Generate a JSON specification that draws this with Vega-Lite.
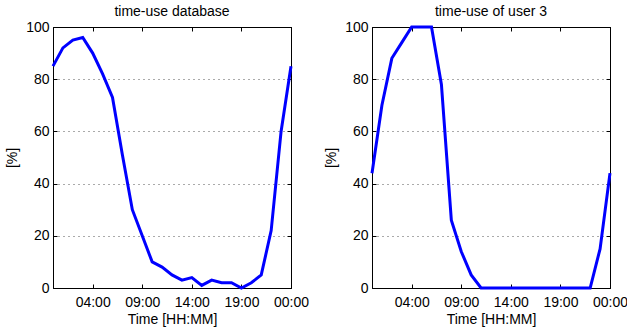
{
  "$schema": "https://vega.github.io/schema/vega-lite/v6.json",
  "background": "white",
  "padding": {"left": 5, "top": 4, "right": 0, "bottom": 0},
  "datasets": {
    "db": [
      {"hour": 0, "pct": 85}, {"hour": 1, "pct": 92}, {"hour": 2, "pct": 95}, {"hour": 3, "pct": 96},
      {"hour": 4, "pct": 90}, {"hour": 5, "pct": 82}, {"hour": 6, "pct": 73}, {"hour": 7, "pct": 51},
      {"hour": 8, "pct": 30}, {"hour": 9, "pct": 20}, {"hour": 10, "pct": 10}, {"hour": 11, "pct": 8},
      {"hour": 12, "pct": 5}, {"hour": 13, "pct": 3}, {"hour": 14, "pct": 4}, {"hour": 15, "pct": 1},
      {"hour": 16, "pct": 3}, {"hour": 17, "pct": 2}, {"hour": 18, "pct": 2}, {"hour": 19, "pct": 0},
      {"hour": 20, "pct": 2}, {"hour": 21, "pct": 5}, {"hour": 22, "pct": 22}, {"hour": 23, "pct": 60},
      {"hour": 24, "pct": 85}
    ],
    "u3": [
      {"hour": 0, "pct": 44}, {"hour": 1, "pct": 70}, {"hour": 2, "pct": 88}, {"hour": 3, "pct": 94},
      {"hour": 4, "pct": 100}, {"hour": 5, "pct": 100}, {"hour": 6, "pct": 100}, {"hour": 7, "pct": 78},
      {"hour": 8, "pct": 26}, {"hour": 9, "pct": 14}, {"hour": 10, "pct": 5}, {"hour": 11, "pct": 0},
      {"hour": 12, "pct": 0}, {"hour": 13, "pct": 0}, {"hour": 14, "pct": 0}, {"hour": 15, "pct": 0},
      {"hour": 16, "pct": 0}, {"hour": 17, "pct": 0}, {"hour": 18, "pct": 0}, {"hour": 19, "pct": 0},
      {"hour": 20, "pct": 0}, {"hour": 21, "pct": 0}, {"hour": 22, "pct": 0}, {"hour": 23, "pct": 15},
      {"hour": 24, "pct": 44}
    ]
  },
  "spacing": 14,
  "hconcat": [
    {
      "width": 238, "height": 261,
      "title": {"text": "time-use database"},
      "data": {"name": "db"},
      "layer": [
        {
          "mark": {"type": "line", "color": "#0000ff", "strokeWidth": 3},
          "encoding": {
            "x": {"field": "hour", "type": "quantitative", "scale": {"domain": [0, 24], "nice": false, "zero": false},
                  "axis": {"orient": "bottom", "values": [4, 9, 14, 19, 24], "labelExpr": "(datum.value % 24 < 10 ? '0' : '') + (datum.value % 24) + ':00'", "title": "Time [HH:MM]", "grid": false, "labelPadding": 11, "titlePadding": 3}},
            "y": {"field": "pct", "type": "quantitative", "scale": {"domain": [0, 100], "nice": false},
                  "axis": {"orient": "left", "values": [0, 20, 40, 60, 80, 100], "title": "[%]", "grid": true, "titlePadding": 6, "labelPadding": 8}}
          }
        },
        {
          "mark": {"type": "line", "opacity": 0},
          "encoding": {
            "x": {"field": "hour", "type": "quantitative", "axis": {"orient": "top", "values": [4, 9, 14, 19, 24], "labels": false, "title": null, "grid": false, "minExtent": 0, "maxExtent": 0}},
            "y": {"field": "pct", "type": "quantitative", "axis": {"orient": "right", "values": [0, 20, 40, 60, 80, 100], "labels": false, "title": null, "grid": false, "minExtent": 0, "maxExtent": 0}}
          }
        }
      ],
      "resolve": {"axis": {"x": "independent", "y": "independent"}}
    },
    {
      "width": 238, "height": 261,
      "title": {"text": "time-use of user 3"},
      "data": {"name": "u3"},
      "layer": [
        {
          "mark": {"type": "line", "color": "#0000ff", "strokeWidth": 3},
          "encoding": {
            "x": {"field": "hour", "type": "quantitative", "scale": {"domain": [0, 24], "nice": false, "zero": false},
                  "axis": {"orient": "bottom", "values": [4, 9, 14, 19, 24], "labelExpr": "(datum.value % 24 < 10 ? '0' : '') + (datum.value % 24) + ':00'", "title": "Time [HH:MM]", "grid": false, "labelPadding": 11, "titlePadding": 3}},
            "y": {"field": "pct", "type": "quantitative", "scale": {"domain": [0, 100], "nice": false},
                  "axis": {"orient": "left", "values": [0, 20, 40, 60, 80, 100], "title": "[%]", "grid": true, "titlePadding": 6, "labelPadding": 8}}
          }
        },
        {
          "mark": {"type": "line", "opacity": 0},
          "encoding": {
            "x": {"field": "hour", "type": "quantitative", "axis": {"orient": "top", "values": [4, 9, 14, 19, 24], "labels": false, "title": null, "grid": false, "minExtent": 0, "maxExtent": 0}},
            "y": {"field": "pct", "type": "quantitative", "axis": {"orient": "right", "values": [0, 20, 40, 60, 80, 100], "labels": false, "title": null, "grid": false, "minExtent": 0, "maxExtent": 0}}
          }
        }
      ],
      "resolve": {"axis": {"x": "independent", "y": "independent"}}
    }
  ],
  "config": {
    "font": "Liberation Sans",
    "view": {"stroke": "black", "strokeWidth": 1},
    "axis": {
      "labelFont": "Liberation Sans", "labelFontSize": 14, "labelColor": "black",
      "titleFont": "Liberation Sans", "titleFontSize": 14, "titleFontWeight": "normal", "titleColor": "black",
      "domainColor": "black", "domainWidth": 1, "tickColor": "black", "tickSize": -4, "labelPadding": 4,
      "labelOverlap": false, "labelFlush": false, "labelBound": false,
      "gridColor": "#555", "gridDash": [1, 4], "gridWidth": 1, "gridOpacity": 1
    },
    "title": {"font": "Liberation Sans", "fontSize": 14, "fontWeight": "normal", "color": "black", "offset": 1}
  }
}
